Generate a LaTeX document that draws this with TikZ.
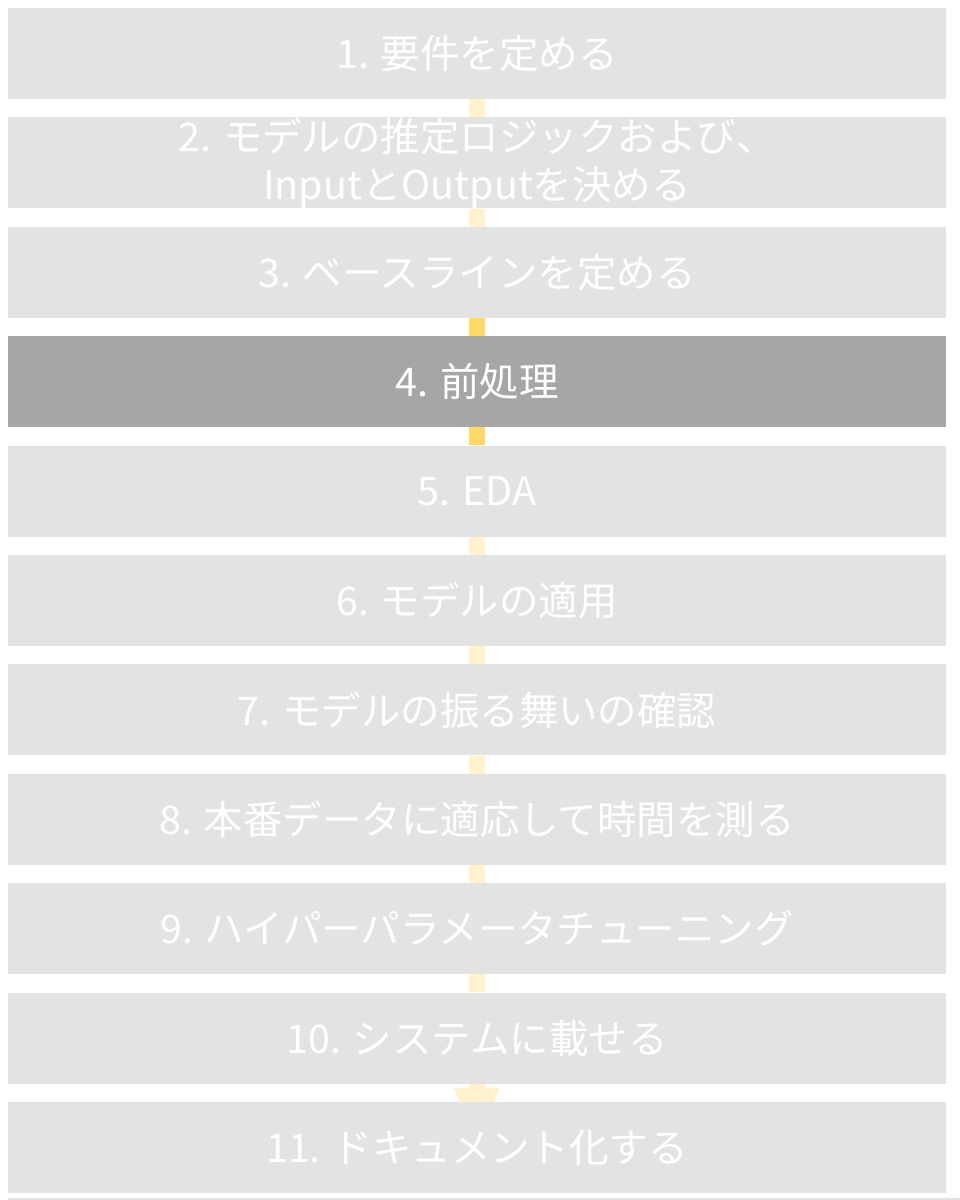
\documentclass[tikz,border=0pt]{standalone}
\usepackage{fontspec}
\setmainfont{Noto Sans CJK JP}
\usepackage{xcolor}
\usetikzlibrary{arrows.meta, backgrounds}

\definecolor{stepgray}{HTML}{E3E3E3}
\definecolor{stepdark}{HTML}{A6A6A6}
\definecolor{linkpale}{HTML}{FFF2CC}
\definecolor{linkgold}{HTML}{FFD966}

\begin{document}
\begin{tikzpicture}[x=0.75pt, y=-0.75pt]
		\tikzstyle{stage} = [fill=stepgray, minimum width=703.5pt, minimum height=68.25pt, inner sep=0pt, text=white, font=\fontsize{29.6}{36}\selectfont, align=center]
		\tikzstyle{current} = [stage, fill=stepdark]
		\tikzstyle{link} = [draw=linkpale, line width=12pt]
		\tikzstyle{hot} = [draw=linkgold, line width=12pt]
		
		\useasboundingbox (0,0) rectangle (960,1200);
		\fill[stepgray] (8,1198) rectangle (960,1200);
		
		\node[stage] 	at (477, 53.5) 		(s1) 	{1. 要件を定める};
		\node[stage] 	at (477, 162.9) 	(s2) 	{2. モデルの推定ロジックおよび、\\InputとOutputを決める};
		\node[stage] 	at (477, 272.3) 	(s3) 	{3. ベースラインを定める};
		\node[current] 	at (477, 381.7) 	(s4) 	{4. 前処理};
		\node[stage] 	at (477, 491.1) 	(s5) 	{5. EDA};
		\node[stage] 	at (477, 600.5) 	(s6) 	{6. モデルの適用};
		\node[stage] 	at (477, 709.9) 	(s7) 	{7. モデルの振る舞いの確認};
		\node[stage] 	at (477, 819.3) 	(s8) 	{8. 本番データに適応して時間を測る};
		\node[stage] 	at (477, 928.7) 	(s9) 	{9. ハイパーパラメータチューニング};
		\node[stage] 	at (477, 1038.1) 	(s10) 	{10. システムに載せる};
		\node[stage] 	at (477, 1147.5) 	(s11) 	{11. ドキュメント化する};
		
		\begin{scope}[on background layer]
		\path
		(s1)	edge[link]	(s2)
		(s2)	edge[link]	(s3)
		(s3)	edge[hot]	(s4)
		(s4)	edge[hot]	(s5)
		(s5)	edge[link]	(s6)
		(s6)	edge[link]	(s7)
		(s7)	edge[link]	(s8)
		(s8)	edge[link]	(s9)
		(s9)	edge[link]	(s10);
		\draw[link, -{Triangle[width=34.5pt, length=45pt, line width=0pt]}] (s10) -- (s11.center);
		\end{scope}
\end{tikzpicture}
\end{document}
